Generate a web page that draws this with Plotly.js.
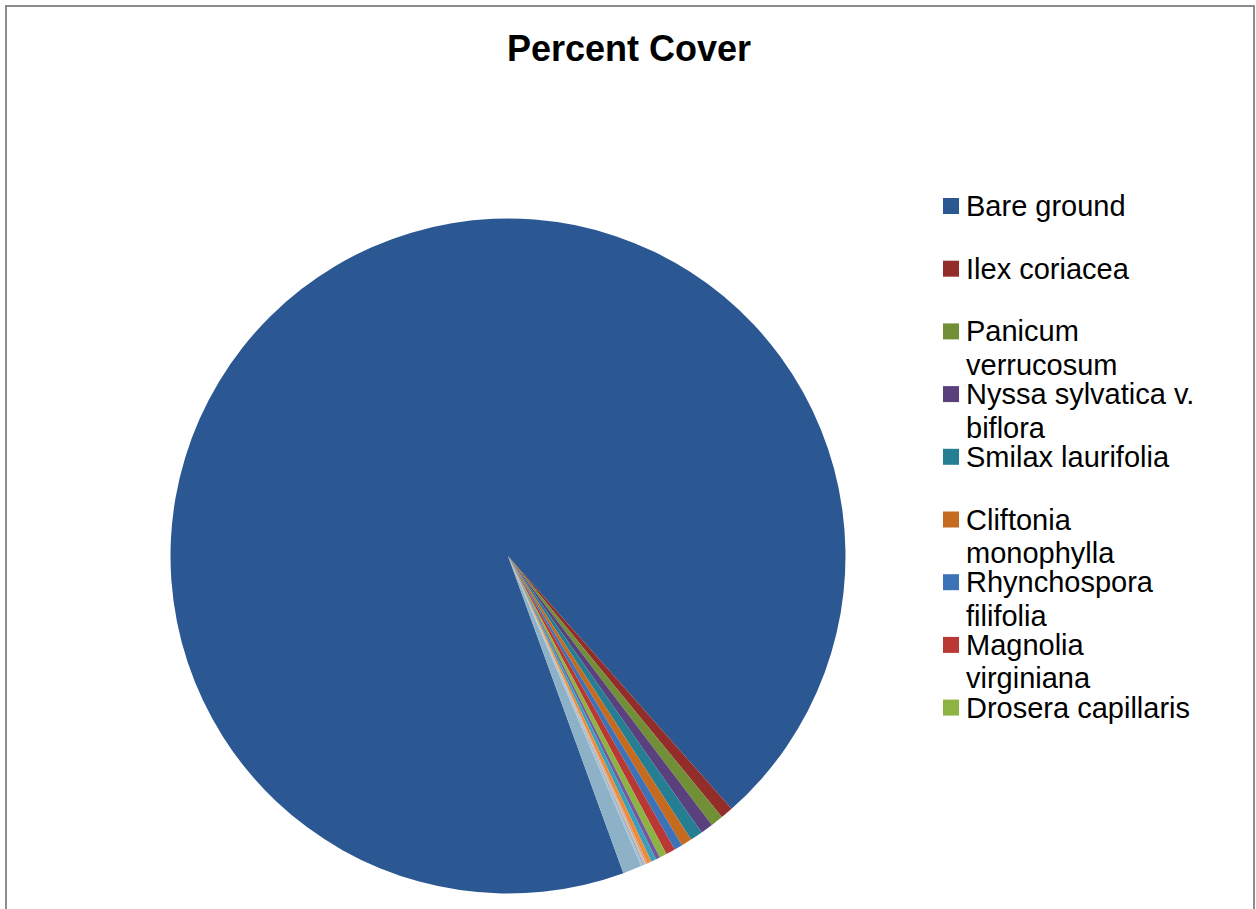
<!DOCTYPE html>
<html>
<head>
<meta charset="utf-8">
<script src="https://cdn.plot.ly/plotly-3.0.1.min.js"></script>
<style>
  html, body { margin: 0; padding: 0; background: #ffffff; }
  #chart { width: 1256px; height: 909px; }
</style>
</head>
<body>
<div id="chart"></div>
<script>
// Percent cover by species (slices drawn clockwise, in this order)
const species = [
  "Bare ground",
  "Ilex coriacea",
  "Panicum verrucosum",
  "Nyssa sylvatica v. biflora",
  "Smilax laurifolia",
  "Cliftonia monophylla",
  "Rhynchospora filifolia",
  "Magnolia virginiana",
  "Drosera capillaris",
  "Species 10",
  "Species 11",
  "Species 12",
  "Species 13",
  "Species 14",
  "Species 15",
  "Species 16",
  "Species 17"
];
const cover = [94.03, 0.6, 0.6, 0.6, 0.6, 0.5, 0.4, 0.45, 0.35, 0.2, 0.25, 0.2, 0.08, 0.08, 0.08, 0.08, 0.9];

const sliceColors = [
  "#2B5892", "#922D29", "#718F36", "#5A417D", "#267E92", "#C66A1F",
  "#3B72B8", "#BA3834", "#8DB443", "#7459A0", "#3AA0BA", "#EE8B34",
  "#D49A98", "#C9C49A", "#A9A1C6", "#9AC8D6", "#8DB2C8"
];

// Legend text as it wraps in the legend column (only the first nine fit)
const legendText = [
  ["Bare ground"],
  ["Ilex coriacea"],
  ["Panicum", "verrucosum"],
  ["Nyssa sylvatica v.", "biflora"],
  ["Smilax laurifolia"],
  ["Cliftonia", "monophylla"],
  ["Rhynchospora", "filifolia"],
  ["Magnolia", "virginiana"],
  ["Drosera capillaris"]
];

const W = 1256, H = 909;
const cx = 508, cy = 556, R = 337.5;
const px = x => x / W;
const py = y => 1 - y / H;

const font = "Liberation Sans, Arial, Helvetica, sans-serif";

const annotations = [];
const shapes = [];

// chart frame
shapes.push({
  type: "rect", xref: "paper", yref: "paper",
  x0: px(6), x1: px(1254), y0: py(930), y1: py(6),
  line: { color: "#8C8C8C", width: 2 }, fillcolor: "rgba(0,0,0,0)", layer: "above"
});

// legend
const legTop = 206, legStep = 62.7, lineStep = 33.5;
legendText.forEach((lines, i) => {
  const yc = legTop + i * legStep;
  shapes.push({
    type: "rect", xref: "paper", yref: "paper",
    x0: px(943), x1: px(959), y0: py(yc + 8), y1: py(yc - 8),
    fillcolor: sliceColors[i], line: { width: 0 }
  });
  lines.forEach((t, j) => {
    annotations.push({
      xref: "paper", yref: "paper", x: px(964), y: py(yc + j * lineStep),
      xanchor: "left", yanchor: "middle", showarrow: false,
      text: t, font: { family: font, size: 29, color: "#000000" }
    });
  });
});

const data = [{
  type: "pie",
  labels: species,
  values: cover,
  sort: false,
  direction: "clockwise",
  rotation: 160,
  textinfo: "none",
  hoverinfo: "label+percent",
  marker: { colors: sliceColors, line: { width: 0 } },
  domain: { x: [px(cx - R), px(cx + R)], y: [py(cy + R), py(cy - R)] },
  showlegend: false
}];

const layout = {
  width: W, height: H,
  margin: { l: 0, r: 0, t: 0, b: 0 },
  paper_bgcolor: "#ffffff",
  title: {
    text: "<b>Percent Cover</b>",
    font: { family: font, size: 36, color: "#000000" },
    x: px(629), xanchor: "center", xref: "paper",
    y: py(48), yanchor: "middle", yref: "container"
  },
  showlegend: false,
  shapes: shapes,
  annotations: annotations
};

Plotly.newPlot("chart", data, layout, { displayModeBar: false, staticPlot: true });
</script>
</body>
</html>
